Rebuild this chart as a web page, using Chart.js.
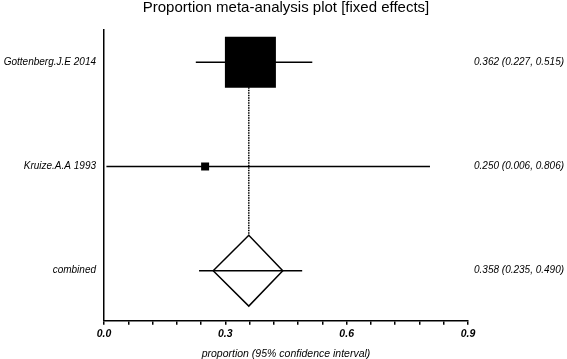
<!DOCTYPE html>
<html>
<head>
<meta charset="utf-8">
<script src="https://cdn.jsdelivr.net/npm/chart.js@4.4.1/dist/chart.umd.min.js"></script>
<style>
    html, body { margin: 0; padding: 0; background: #fff; }
    #wrap { width: 567px; height: 359px; }
</style>
</head>
<body>
<div id="wrap"><canvas id="plot" width="567" height="359"></canvas></div>
<script>
// study rows
var studies = ['Gottenberg.J.E 2014', 'Kruize.A.A 1993'];
var estimates = [0.362, 0.250];
var lowerCI = [0.227, 0.006];
var upperCI = [0.515, 0.806];
var weights = [97.6, 2.4]; // % weight -> square area

// pooled row
var pooledLabel = 'combined';
var pooledEstimate = 0.358;
var pooledLower = 0.235;
var pooledUpper = 0.490;
var diamondSpan = [0.270, 0.442];

// x axis
var xTicks = [0, 0.06, 0.12, 0.18, 0.24, 0.3, 0.36, 0.42, 0.48, 0.54, 0.6, 0.66, 0.72, 0.78, 0.84, 0.9];
var xTickLabels = {'0': '0.0', '0.3': '0.3', '0.6': '0.6', '0.9': '0.9'};

(function () {
    'use strict';

    var FONT = '"Liberation Sans", Arial, Helvetica, sans-serif',
        INK = '#000',
        maxSide = 51,        // px side of biggest square
        diamondHalf = 0.34,  // diamond half height, in row units
        pooledRow = studies.length,
        maxWeight = Math.max.apply(null, weights);

    Chart.defaults.font.family = FONT;
    Chart.defaults.color = INK;

    function fmt(v) {
        return v.toFixed(3);
    }

    var rowLabels = studies.concat([pooledLabel]),
        rowText = estimates.map(function (e, i) {
            return fmt(e) + ' (' + fmt(lowerCI[i]) + ', ' + fmt(upperCI[i]) + ')';
        }).concat([fmt(pooledEstimate) + ' (' + fmt(pooledLower) + ', ' + fmt(pooledUpper) + ')']);

    // fresh tick objects per axis, chart.js writes labels onto them
    function rowTicks(scale) {
        scale.ticks = rowLabels.map(function (d, i) {
            return {value: i};
        });
    }

    function fixWidth(w) {
        return function (scale) {
            scale.width = w;
            scale.paddingTop = 0;
            scale.paddingBottom = 0;
        };
    }

    function lineSet(points, extra) {
        var ds = {
            data: points,
            showLine: true,
            borderColor: INK,
            borderWidth: 1.5,
            pointRadius: 0,
            fill: false,
            tension: 0
        };
        for (var k in extra) {
            if (extra.hasOwnProperty(k)) {
                ds[k] = extra[k];
            }
        }
        return ds;
    }

    var datasets = [];

    // squares on top
    datasets.push({
        data: estimates.map(function (e, i) {
            return {x: e, y: i};
        }),
        pointStyle: 'rect',
        pointRadius: weights.map(function (w) {
            return maxSide * Math.sqrt(w / maxWeight) / Math.SQRT2;
        }),
        backgroundColor: INK,
        borderColor: INK,
        borderWidth: 0
    });

    // confidence interval lines
    estimates.forEach(function (e, i) {
        datasets.push(lineSet([{x: lowerCI[i], y: i}, {x: upperCI[i], y: i}]));
    });
    datasets.push(lineSet([{x: pooledLower, y: pooledRow}, {x: pooledUpper, y: pooledRow}]));

    // pooled diamond
    datasets.push(lineSet([
        {x: diamondSpan[0], y: pooledRow},
        {x: pooledEstimate, y: pooledRow - diamondHalf},
        {x: diamondSpan[1], y: pooledRow},
        {x: pooledEstimate, y: pooledRow + diamondHalf},
        {x: diamondSpan[0], y: pooledRow}
    ], {borderJoinStyle: 'miter'}));

    // dotted line through pooled estimate
    datasets.push(lineSet([
        {x: pooledEstimate, y: 0},
        {x: pooledEstimate, y: pooledRow - diamondHalf}
    ], {borderWidth: 1.5, borderDash: [1.5, 1]}));

    new Chart(document.getElementById('plot'), {
        type: 'scatter',
        data: {datasets: datasets},
        options: {
            responsive: false,
            animation: false,
            devicePixelRatio: 1,
            events: [],
            layout: {padding: 0, autoPadding: false},
            clip: false,
            plugins: {
                legend: {display: false},
                tooltip: {enabled: false},
                title: {
                    display: true,
                    fullSize: false,
                    text: 'Proportion meta-analysis plot [fixed effects]',
                    color: INK,
                    font: {size: 15, weight: 'normal', lineHeight: 1},
                    padding: {top: 0, bottom: 15}
                }
            },
            scales: {
                x: {
                    type: 'linear',
                    position: 'bottom',
                    min: 0,
                    max: 0.9,
                    afterBuildTicks: function (scale) {
                        scale.ticks = xTicks.map(function (v) {
                            return {value: v};
                        });
                    },
                    afterFit: function (scale) {
                        scale.height = 38.3;
                    },
                    grid: {drawOnChartArea: false, drawTicks: true, tickLength: 4, color: INK, lineWidth: 1.5},
                    border: {display: true, color: INK, width: 1.5},
                    ticks: {
                        autoSkip: false,
                        maxRotation: 0,
                        padding: 3,
                        color: INK,
                        font: {size: 10.5, style: 'italic', weight: 'bold'},
                        callback: function (v) {
                            return xTickLabels[String(v)] || '';
                        }
                    },
                    title: {
                        display: true,
                        text: 'proportion (95% confidence interval)',
                        color: INK,
                        font: {size: 10.5, style: 'italic', lineHeight: 1},
                        padding: 0
                    }
                },
                y: {
                    type: 'linear',
                    position: 'left',
                    min: -0.31,
                    max: 2.48,
                    reverse: true,
                    afterBuildTicks: rowTicks,
                    afterFit: fixWidth(104),
                    grid: {display: false, drawTicks: false},
                    border: {display: true, color: INK, width: 1.5},
                    ticks: {
                        autoSkip: false,
                        color: INK,
                        padding: 8,
                        font: {size: 10, style: 'italic'},
                        callback: function (v) {
                            return rowLabels[v];
                        }
                    }
                },
                y2: {
                    type: 'linear',
                    position: 'right',
                    min: -0.31,
                    max: 2.48,
                    reverse: true,
                    afterBuildTicks: rowTicks,
                    afterFit: fixWidth(99),
                    grid: {display: false, drawTicks: false},
                    border: {display: false},
                    ticks: {
                        autoSkip: false,
                        color: INK,
                        padding: 6,
                        font: {size: 10, style: 'italic'},
                        callback: function (v) {
                            return rowText[v];
                        }
                    }
                }
            }
        }
    });
}());
</script>
</body>
</html>
